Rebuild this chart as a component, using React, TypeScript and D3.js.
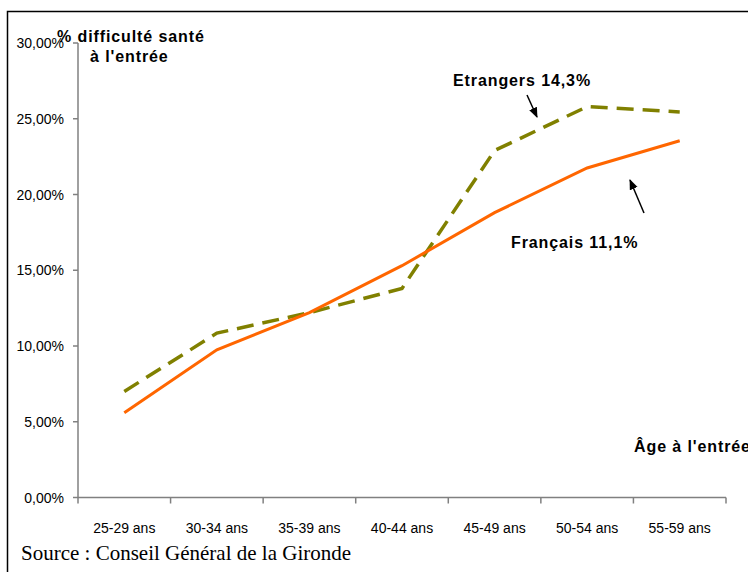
import React from "react";
import * as d3 from "d3";

const categories = ["25-29 ans", "30-34 ans", "35-39 ans", "40-44 ans", "45-49 ans", "50-54 ans", "55-59 ans"];
const francais = [5.6, 9.75, 12.2, 15.3, 18.8, 21.75, 23.55];
const etrangers = [7.0, 10.85, 12.2, 13.8, 22.9, 25.8, 25.45];
const yTicks = [0, 5, 10, 15, 20, 25, 30];

const W = 748;
const H = 572;

export default function App() {
  const x = d3.scaleBand<string>().domain(categories).range([78, 726]);
  const y = d3.scaleLinear().domain([0, 30]).range([497.5, 43]);
  const cx = (c: string) => (x(c) as number) + x.bandwidth() / 2;
  const line = d3
    .line<number>()
    .x((_, i) => cx(categories[i]))
    .y((d) => y(d));
  const fmt = (v: number) => v.toFixed(2).replace(".", ",") + "%";
  const bold = {
    fontFamily: "Arial, 'Liberation Sans', sans-serif",
    fontWeight: 700,
    fontSize: 16,
    letterSpacing: 0.9,
  } as const;
  const tickFont = { fontFamily: "Arial, 'Liberation Sans', sans-serif", fontSize: 14 } as const;
  const xEdges = [...categories.map((c) => x(c) as number), 726];

  return (
    <svg width={W} height={H} style={{ position: "absolute", left: 0, top: 0, background: "#fff" }}>
      <defs>
        <marker id="ah" viewBox="0 0 10 10" refX="9" refY="5" markerWidth="7" markerHeight="7" orient="auto">
          <path d="M0,1 L10,5 L0,9 z" fill="#000" />
        </marker>
      </defs>
      <rect x={7.5} y={11.5} width={800} height={600} fill="none" stroke="#000" strokeWidth={1.5} />
      {/* y axis */}
      <line x1={78} x2={78} y1={y(30)} y2={y(0)} stroke="#808080" strokeWidth={1.5} />
      {yTicks.map((t) => (
        <g key={t}>
          <line x1={73} x2={78} y1={y(t)} y2={y(t)} stroke="#808080" strokeWidth={1.5} />
          <text x={64} y={y(t) + 5} textAnchor="end" {...tickFont} fill="#000">
            {fmt(t)}
          </text>
        </g>
      ))}
      {/* x axis */}
      <line x1={78} x2={726} y1={y(0)} y2={y(0)} stroke="#808080" strokeWidth={1.5} />
      {xEdges.map((e, i) => (
        <line key={i} x1={e} x2={e} y1={y(0)} y2={y(0) + 6} stroke="#808080" strokeWidth={1.5} />
      ))}
      {categories.map((c) => (
        <text key={c} x={cx(c)} y={533} textAnchor="middle" {...tickFont} fill="#000">
          {c}
        </text>
      ))}
      {/* lines */}
      <path d={line(etrangers) || ""} fill="none" stroke="#808000" strokeWidth={3.5} strokeDasharray="17 9" />
      <path d={line(francais) || ""} fill="none" stroke="#FF6600" strokeWidth={3} />
      {/* labels */}
      <text x={57} y={42} {...bold}>% difficulté santé</text>
      <text x={90} y={62} {...bold}>à l'entrée</text>
      <text x={634} y={452} {...bold}>Âge à l'entrée</text>
      <text x={453} y={86} {...bold}>Etrangers 14,3%</text>
      <text x={511} y={248} {...bold}>Français 11,1%</text>
      <line x1={527} y1={95} x2={537} y2={117} stroke="#000" strokeWidth={1.5} markerEnd="url(#ah)" />
      <line x1={644} y1={213} x2={630} y2={180} stroke="#000" strokeWidth={1.5} markerEnd="url(#ah)" />
      <text x={21} y={560} fontFamily="'Times New Roman', 'Liberation Serif', serif" fontSize={21} fill="#000">
        Source : Conseil Général de la Gironde
      </text>
    </svg>
  );
}
